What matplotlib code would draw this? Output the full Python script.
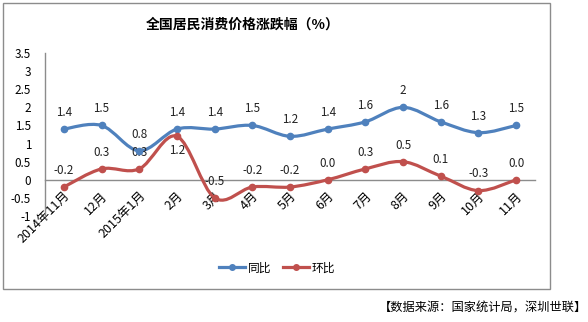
import matplotlib
matplotlib.use("Agg")
import matplotlib.pyplot as plt
from matplotlib.path import Path
from matplotlib.patches import PathPatch, Rectangle
from matplotlib.lines import Line2D
import matplotlib.transforms as mtransforms
import numpy as np

plt.rcParams['font.family'] = ['Noto Sans CJK SC', 'DejaVu Sans']

categories = ['2014年11月', '12月', '2015年1月', '2月', '3月', '4月', '5月',
              '6月', '7月', '8月', '9月', '10月', '11月']
yoy = [1.4, 1.5, 0.8, 1.4, 1.4, 1.5, 1.2, 1.4, 1.6, 2.0, 1.6, 1.3, 1.5]
mom = [-0.2, 0.3, 0.3, 1.2, -0.5, -0.2, -0.2, 0.0, 0.3, 0.5, 0.1, -0.3, 0.0]
yoy_labels = ['1.4', '1.5', '0.8', '1.4', '1.4', '1.5', '1.2', '1.4', '1.6', '2', '1.6', '1.3', '1.5']
mom_labels = ['-0.2', '0.3', '0.3', '1.2', '-0.5', '-0.2', '-0.2', '0.0', '0.3', '0.5', '0.1', '-0.3', '0.0']
yticks = [3.5, 3, 2.5, 2, 1.5, 1, 0.5, 0, -0.5, -1]
ytick_labels = ['3.5', '3', '2.5', '2', '1.5', '1', '0.5', '0', '-0.5', '-1']

BLUE = '#4F81BD'
RED = '#C0504D'

fig = plt.figure(figsize=(5.88, 3.22), dpi=100)
W, H = 588, 322

# outer frame
fig.patches.append(Rectangle((3 / W, 1 - 289 / H), (550 - 3) / W, (289 - 3) / H,
                             transform=fig.transFigure, fill=False,
                             edgecolor='#8c8c8c', linewidth=1.0))

ax = fig.add_axes([45 / W, 1 - 216 / H, (535 - 45) / W, (216 - 53) / H])
ax.set_xlim(-0.5, len(categories) - 0.5)
ax.set_ylim(-1, 3.5)


def smooth_path(xs, ys):
    pts = np.column_stack([xs, ys]).astype(float)
    n = len(pts)
    verts = [pts[0]]
    codes = [Path.MOVETO]
    for i in range(n - 1):
        p0 = pts[i - 1] if i > 0 else pts[i]
        p1 = pts[i]
        p2 = pts[i + 1]
        p3 = pts[i + 2] if i + 2 < n else pts[i + 1]
        c1 = p1 + (p2 - p0) / 6.0
        c2 = p2 - (p3 - p1) / 6.0
        verts += [c1, c2, p2]
        codes += [Path.CURVE4] * 3
    return Path(verts, codes)


x = np.arange(len(categories))
for vals, col in [(yoy, BLUE), (mom, RED)]:
    ax.add_patch(PathPatch(smooth_path(x, vals), fill=False, edgecolor=col,
                           linewidth=2.3, capstyle='round', joinstyle='round', zorder=3))
    ax.plot(x, vals, linestyle='none', marker='o', markersize=4.5, color=col, zorder=4)

for i, (v, t) in enumerate(zip(yoy, yoy_labels)):
    ax.annotate(t, (i, v), xytext=(0, 12), textcoords='offset points',
                ha='center', va='center', fontsize=8.4, color='#222222')
for i, (v, t) in enumerate(zip(mom, mom_labels)):
    off = -10 if categories[i] == '2月' else 12
    ax.annotate(t, (i, v), xytext=(0, off), textcoords='offset points',
                ha='center', va='center', fontsize=8.4, color='#222222')

for s in ['top', 'right']:
    ax.spines[s].set_visible(False)
ax.spines['bottom'].set_position(('data', 0))
ax.spines['bottom'].set_color('#8c8c8c')
ax.spines['left'].set_color('#8c8c8c')
ax.spines['bottom'].set_linewidth(1.0)
ax.spines['left'].set_linewidth(1.0)

ax.set_yticks(yticks)
ax.set_yticklabels(ytick_labels, fontsize=8.4)
ax.set_xticks(x)
ax.set_xticklabels(categories, fontsize=9, rotation=45, ha='right',
                   rotation_mode='anchor', va='center')
ax.tick_params(axis='y', length=0, pad=10)
ax.tick_params(axis='x', length=0, pad=10)
for lbl in ax.get_xticklabels():
    lbl.set_transform(lbl.get_transform() + mtransforms.ScaledTranslation(3 / 72, 0, fig.dpi_scale_trans))

fig.text(243 / W, 1 - 25 / H, '全国居民消费价格涨跌幅（%）', ha='center', va='center',
         fontsize=10, fontweight='bold')

handles = [Line2D([], [], color=BLUE, lw=2.3, marker='o', markersize=4),
           Line2D([], [], color=RED, lw=2.3, marker='o', markersize=4)]
fig.legend(handles, ['同比', '环比'], loc='center', bbox_to_anchor=(277 / W, 1 - 268 / H),
           ncol=2, frameon=False, fontsize=8.5, handlelength=2.2, handletextpad=0.2,
           columnspacing=1.0)

fig.text(587 / W, 1 - 308 / H, '【数据来源：国家统计局，深圳世联】', ha='right', va='center',
         fontsize=8.8)

fig.savefig('out.png', dpi=100)
